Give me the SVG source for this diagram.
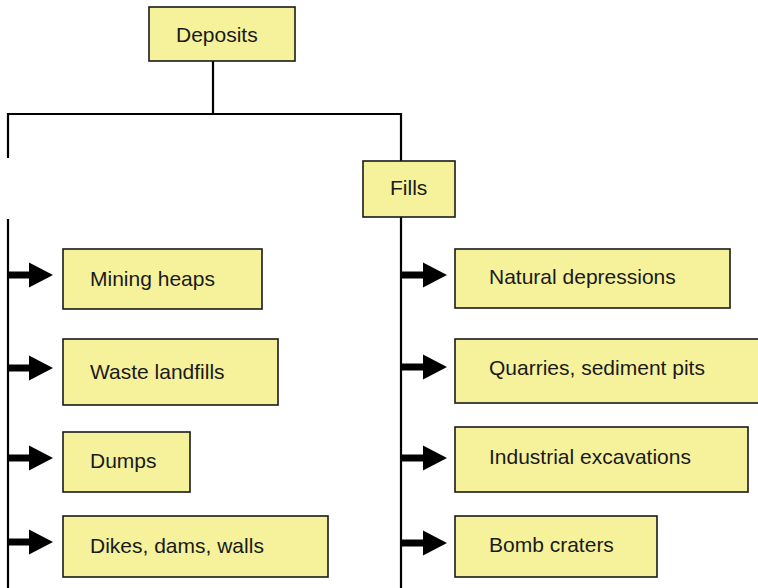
<svg xmlns="http://www.w3.org/2000/svg" width="758" height="588" viewBox="0 0 758 588">
<style>
.box{fill:#f6f29c;stroke:#1a1a1a;stroke-width:1.6}
.lbl{font-family:"Liberation Sans",Arial,sans-serif;font-size:21px;fill:#1a1a1a}
.ln{stroke:#000;stroke-width:2.2;fill:none}
.sh{stroke:#000;stroke-width:7;fill:none}
.hd{fill:#000}
</style>
<defs>
<g id="arr"><line class="sh" x1="0" y1="0" x2="22" y2="0"/><polygon class="hd" points="21,-12.5 45,0 21,12.5"/></g>
</defs>
<g id="connectors">
<line class="ln" x1="213" y1="61" x2="213" y2="114"/>
<polyline class="ln" points="8,158 8,114 401,114 401,161"/>
<line class="ln" x1="8" y1="219" x2="8" y2="588"/>
<line class="ln" x1="401" y1="217" x2="401" y2="588"/>
<use href="#arr" x="8" y="275"/>
<use href="#arr" x="8" y="368"/>
<use href="#arr" x="8" y="458"/>
<use href="#arr" x="8" y="542"/>
<use href="#arr" x="402" y="275"/>
<use href="#arr" x="402" y="367"/>
<use href="#arr" x="402" y="458"/>
<use href="#arr" x="402" y="543"/>
</g>
<g id="deposits"><rect class="box" x="149" y="7" width="146" height="54"/><text class="lbl" x="176" y="42">Deposits</text></g>
<g id="fills"><rect class="box" x="363" y="161" width="92" height="56"/><text class="lbl" x="390" y="195">Fills</text></g>
<g id="mining"><rect class="box" x="63" y="249" width="199" height="60"/><text class="lbl" x="90" y="286">Mining heaps</text></g>
<g id="waste"><rect class="box" x="63" y="339" width="215" height="66"/><text class="lbl" x="90" y="379">Waste landfills</text></g>
<g id="dumps"><rect class="box" x="63" y="432" width="127" height="60"/><text class="lbl" x="90" y="468">Dumps</text></g>
<g id="dikes"><rect class="box" x="63" y="516" width="265" height="61"/><text class="lbl" x="90" y="553">Dikes, dams, walls</text></g>
<g id="natural"><rect class="box" x="455" y="249" width="275" height="59"/><text class="lbl" x="489" y="284">Natural depressions</text></g>
<g id="quarries"><rect class="box" x="455" y="339" width="306" height="64"/><text class="lbl" x="489" y="375">Quarries, sediment pits</text></g>
<g id="industrial"><rect class="box" x="455" y="427" width="293" height="65"/><text class="lbl" x="489" y="464">Industrial excavations</text></g>
<g id="bomb"><rect class="box" x="455" y="516" width="202" height="61"/><text class="lbl" x="489" y="552">Bomb craters</text></g>
</svg>
